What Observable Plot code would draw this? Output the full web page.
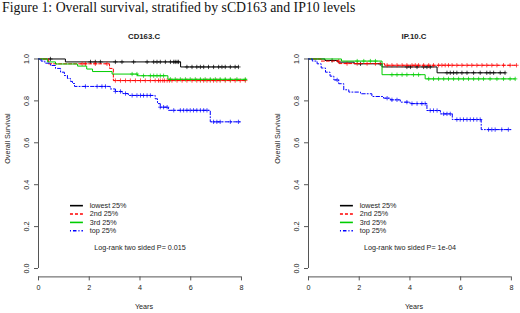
<!DOCTYPE html>
<html><head><meta charset="utf-8">
<script src="https://cdn.jsdelivr.net/npm/d3@7"></script>
<script src="https://cdn.jsdelivr.net/npm/@observablehq/plot@0.6"></script>
<style>
body{margin:0;background:#fff;}
#fig{width:520px;height:313px;overflow:hidden;background:#fff}
#title{height:20px;font-family:"Liberation Serif","Times New Roman",serif;font-size:13.8px;line-height:16px;padding-left:2px;color:#111;white-space:nowrap}
#panels{display:flex}
</style></head><body>
<div id="fig"><div id="title">Figure 1: Overall survival, stratified by sCD163 and IP10 levels</div><div id="panels"></div></div>
<script>
// ---- shared labels / ticks ----
const xTicks = [0, 2, 4, 6, 8];
const yTicks = [0, 0.2, 0.4, 0.6, 0.8, 1.0];
const yTickLabels = ["0.0", "0.2", "0.4", "0.6", "0.8", "1.0"];
const groupLabels = ["lowest 25%", "2nd 25%", "3rd 25%", "top 25%"];
const panelTitles = ["CD163.C", "IP.10.C"];
const pValueLabels = ["Log-rank two sided P= 0.015", "Log-rank two sided P= 1e-04"];
const xLabel = "Years";
const yLabel = "Overall Survival";

// ---- CD163.C survival steps (years, survival) ----
const cd163LowestTime = [0, 1.06, 5.6, 7.88];
const cd163LowestSurv = [1, 0.986, 0.962, 0.962];
const cd163SecondTime = [0, 0.4, 2.8, 2.95, 8.2];
const cd163SecondSurv = [1, 0.977, 0.955, 0.897, 0.897];
const cd163ThirdTime = [0, 0.35, 0.67, 1.54, 1.9, 2.13, 2.9, 3.9, 5.1, 8.2];
const cd163ThirdSurv = [1, 0.986, 0.976, 0.966, 0.952, 0.94, 0.928, 0.92, 0.903, 0.903];
const cd163TopTime = [0, 0.1, 0.25, 0.47, 0.67, 0.87, 1.02, 1.14, 1.26, 1.34, 1.42, 2.83, 3.03, 3.3, 3.54, 4.6, 4.69, 4.8, 5.12, 6.77, 7.98];
const cd163TopSurv = [1, 0.99, 0.98, 0.969, 0.955, 0.937, 0.921, 0.907, 0.893, 0.883, 0.869, 0.857, 0.845, 0.835, 0.826, 0.81, 0.787, 0.77, 0.755, 0.70, 0.70];

// censored times
const cd163LowestCens = [0.47, 2.05, 2.24, 2.44, 3.03, 3.29, 3.75, 4.28, 4.54, 4.67, 4.8, 5.0, 5.2, 5.33, 5.39, 5.46, 5.52, 5.85, 6.05, 6.24, 6.38, 6.51, 6.7, 6.9, 7.1, 7.23, 7.36, 7.56, 7.75, 7.88];
const cd163SecondCens = [1.72, 1.85, 2.24, 2.7, 3.03, 3.23, 3.43, 3.62, 3.82, 4.02, 4.21, 4.41, 4.6, 4.73, 4.8, 4.9, 4.97, 5.07, 5.16, 5.26, 5.46, 5.66, 5.85, 6.05, 6.24, 6.38, 6.51, 6.64, 6.77, 6.9, 7.03, 7.16, 7.36, 7.56, 7.75, 7.95, 8.15];
const cd163ThirdCens = [3.69, 3.88, 4.14, 4.41, 4.54, 4.67, 4.8, 4.93, 5.2, 5.39, 5.59, 5.79, 5.98, 6.18, 6.38, 6.57, 6.77, 6.97, 7.16, 7.36, 7.56, 7.82, 8.15];
const cd163TopCens = [1.85, 2.31, 2.5, 2.64, 3.03, 3.23, 3.43, 3.69, 3.88, 4.02, 4.14, 4.28, 4.41, 4.8, 4.93, 5.07, 5.33, 5.59, 5.72, 5.85, 5.98, 6.11, 6.24, 6.38, 6.51, 6.64, 6.9, 7.03, 7.16, 7.56, 7.88];

// ---- IP.10.C survival steps ----
const ip10LowestTime = [0, 0.65, 1.15, 1.8, 2.9, 5.07, 7.76];
const ip10LowestSurv = [1, 0.993, 0.985, 0.977, 0.962, 0.934, 0.934];
const ip10SecondTime = [0, 0.5, 1.2, 3.0, 8.2];
const ip10SecondSurv = [1, 0.99, 0.978, 0.97, 0.97];
const ip10ThirdTime = [0, 1.3, 2.9, 4.6, 8.15];
const ip10ThirdSurv = [1, 0.99, 0.925, 0.905, 0.905];
const ip10TopTime = [0, 0.15, 0.34, 0.5, 0.67, 0.85, 1.0, 1.19, 1.39, 1.59, 2.05, 2.5, 2.96, 3.23, 3.62, 4.0, 4.67, 5.2, 5.67, 6.81, 8.02];
const ip10TopSurv = [1, 0.99, 0.977, 0.957, 0.937, 0.918, 0.90, 0.882, 0.853, 0.842, 0.834, 0.821, 0.813, 0.805, 0.794, 0.787, 0.754, 0.738, 0.711, 0.663, 0.663];

const ip10LowestCens = [0.93, 2.05, 2.83, 3.88, 4.02, 4.28, 4.54, 4.67, 4.8, 5.46, 5.59, 5.72, 5.85, 6.05, 6.25, 6.51, 6.77, 7.03, 7.16, 7.3, 7.56, 7.75];
const ip10SecondCens = [1.19, 1.52, 1.92, 2.31, 2.64, 3.1, 3.29, 3.49, 3.69, 3.88, 4.08, 4.21, 4.34, 4.54, 4.74, 4.93, 5.13, 5.26, 5.39, 5.52, 5.66, 5.85, 6.05, 6.25, 6.44, 6.64, 6.84, 7.03, 7.23, 7.43, 7.69, 7.95, 8.2];
const ip10ThirdCens = [1.92, 2.18, 2.44, 2.64, 3.29, 3.49, 3.69, 3.88, 4.14, 4.34, 4.74, 4.93, 5.13, 5.33, 5.52, 5.72, 5.92, 6.11, 6.31, 6.51, 6.71, 6.9, 7.16, 7.43, 7.69, 7.95, 8.15];
const ip10TopCens = [1.13, 3.1, 3.29, 3.49, 3.88, 4.08, 4.28, 4.47, 4.6, 4.8, 4.93, 5.07, 5.33, 5.46, 5.59, 5.85, 5.98, 6.11, 6.25, 6.38, 6.51, 6.64, 6.77, 7.1, 7.23, 7.36, 7.62, 7.88];

// ---- styles ----
const groupColors = ["#000000", "#ff0000", "#00cd00", "#0000ff"];
const groupDash = [null, "3,2", null, "1,2,3.5,2"];
const axisColor = "#555";
const textColor = "#222";

const xDomain = [0, 8.32];
const yDomain = [-0.04, 1.04];
const legendY = [0.30, 0.26, 0.22, 0.18];
const legendLineX = [1.26, 1.77];
const legendTextX = 2.02;
const pTextPos = [4.0, 0.1];

function stepAt(times, surv, t) {
  let s = surv[0];
  for (let i = 0; i < times.length; i++) if (times[i] <= t) s = surv[i];
  return s;
}

function panel(title, pLabel, curves, marginLeft, marginRight) {
  const marks = [];
  marks.push(Plot.ruleY([yDomain[0]], {x1: xTicks[0], x2: xTicks[xTicks.length - 1], stroke: axisColor}));
  marks.push(Plot.ruleX([xDomain[0]], {y1: yTicks[0], y2: yTicks[yTicks.length - 1], stroke: axisColor}));
  marks.push(Plot.axisX(xTicks, {anchor: "bottom", tickSize: 4, tickPadding: 4, label: null, stroke: axisColor, fill: textColor, tickFormat: d => String(d)}));
  marks.push(Plot.axisY(yTicks, {anchor: "left", tickSize: 4, label: null, stroke: axisColor, tickFormat: () => ""}));
  marks.push(Plot.text(yTicks, {x: xDomain[0], y: d => d, text: (d, i) => yTickLabels[i], rotate: -90, dx: -12, textAnchor: "middle", lineAnchor: "middle", fill: textColor}));
  marks.push(Plot.text([xLabel], {frameAnchor: "bottom", dy: 31.6, fill: textColor}));
  marks.push(Plot.text([yLabel], {frameAnchor: "left", rotate: -90, dx: -30.5, fill: textColor}));
  marks.push(Plot.text([title], {frameAnchor: "top", dy: -17, fontWeight: "bold", fontSize: 7.8, fill: textColor}));
  curves.forEach((c, g) => {
    const data = c.time.map((t, i) => ({t, s: c.surv[i]}));
    marks.push(Plot.line(data, {x: "t", y: "s", curve: "step-after", stroke: groupColors[g], strokeWidth: 1, strokeDasharray: groupDash[g]}));
    marks.push(Plot.dot(c.cens, {x: d => d, y: d => stepAt(c.time, c.surv, d), symbol: "plus", r: 1.5, stroke: groupColors[g], strokeWidth: 0.7}));
  });
  // legend
  groupLabels.forEach((lab, g) => {
    marks.push(Plot.ruleY([legendY[g]], {x1: legendLineX[0], x2: legendLineX[1], stroke: groupColors[g], strokeWidth: 1.6, strokeDasharray: groupDash[g]}));
  });
  marks.push(Plot.text(groupLabels, {x: legendTextX, y: (d, i) => legendY[i], text: d => d, textAnchor: "start", fill: textColor}));
  marks.push(Plot.text([pLabel], {x: pTextPos[0], y: pTextPos[1], text: d => d, textAnchor: "middle", fill: textColor}));

  return Plot.plot({
    width: 260, height: 293,
    marginLeft, marginRight, marginTop: 30.1, marginBottom: 36.6,
    x: {domain: xDomain},
    y: {domain: yDomain},
    style: {fontFamily: "'Liberation Sans', Arial, sans-serif", fontSize: "7.2px", color: textColor, background: "white", overflow: "visible"},
    marks
  });
}

const left = panel(panelTitles[0], pValueLabels[0], [
  {time: cd163LowestTime, surv: cd163LowestSurv, cens: cd163LowestCens},
  {time: cd163SecondTime, surv: cd163SecondSurv, cens: cd163SecondCens},
  {time: cd163ThirdTime, surv: cd163ThirdSurv, cens: cd163ThirdCens},
  {time: cd163TopTime, surv: cd163TopSurv, cens: cd163TopCens}
], 38, 10.9);

const right = panel(panelTitles[1], pValueLabels[1], [
  {time: ip10LowestTime, surv: ip10LowestSurv, cens: ip10LowestCens},
  {time: ip10SecondTime, surv: ip10SecondSurv, cens: ip10SecondCens},
  {time: ip10ThirdTime, surv: ip10ThirdSurv, cens: ip10ThirdCens},
  {time: ip10TopTime, surv: ip10TopSurv, cens: ip10TopCens}
], 48, 1);

document.getElementById("panels").append(left, right);
</script>
</body></html>
